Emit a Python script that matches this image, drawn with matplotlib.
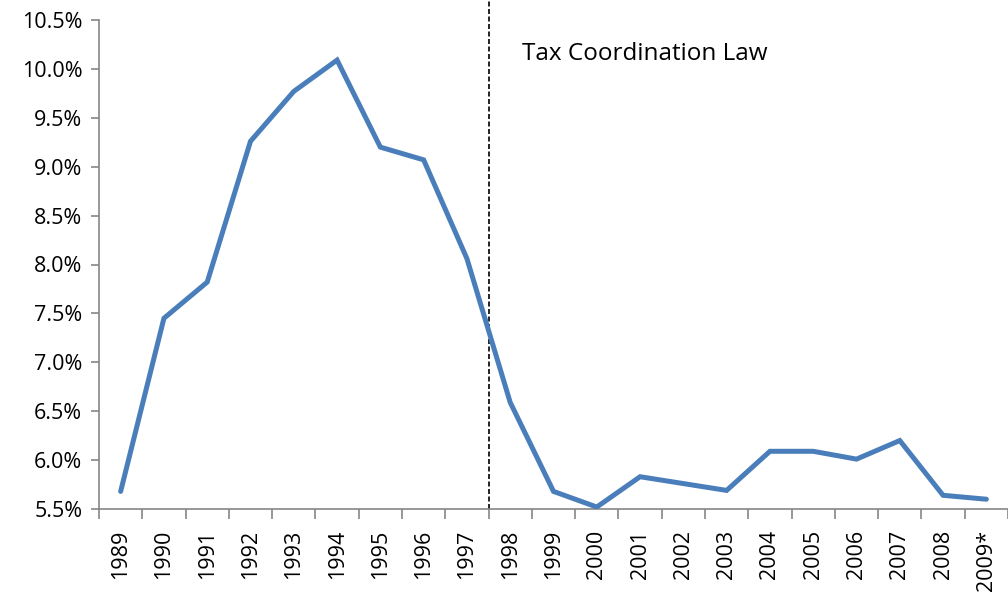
import matplotlib
matplotlib.use("Agg")
import matplotlib.pyplot as plt
import matplotlib.ticker as mticker
import numpy as np

# share of revenue by year (percent)
years = ["1989", "1990", "1991", "1992", "1993", "1994", "1995", "1996", "1997",
         "1998", "1999", "2000", "2001", "2002", "2003", "2004", "2005", "2006",
         "2007", "2008", "2009*"]
share = [5.68, 7.45, 7.82, 9.26, 9.77, 10.09, 9.20, 9.07, 8.06,
         6.59, 5.68, 5.52, 5.83, 5.76, 5.69, 6.09, 6.09, 6.01,
         6.20, 5.64, 5.60]
law_label = "Tax Coordination Law"
law_after = "1997"  # law line drawn between this year and the next

plt.rcParams["font.family"] = ["Open Sans", "DejaVu Sans"]

fig = plt.figure(figsize=(10.08, 5.95), dpi=100)
ax = fig.add_axes([99 / 1008, 1 - 509 / 595, 1 - 99 / 1008, (509 - 20) / 595])

x = np.arange(len(years))
ax.plot(x, share, color="#4A7EBB", linewidth=3.6, solid_capstyle="round",
        solid_joinstyle="miter", zorder=3)

# vertical marker for the law
xl = years.index(law_after) + 0.5
ax.plot([xl, xl], [5.5, 10.71], color="black", linewidth=1.2,
        linestyle=(0, (3.0, 1.5)), clip_on=False, zorder=2)
ax.text(9.27, 10.15, law_label, fontsize=17.5, ha="left", va="center",
        color="black")

ax.set_xlim(-0.5, 20.35)
ax.set_ylim(5.5, 10.5)

# y axis
ax.yaxis.set_major_locator(mticker.MultipleLocator(0.5))
ax.yaxis.set_major_formatter(mticker.FuncFormatter(lambda v, p: f"{v:.1f}%"))
ax.tick_params(axis="y", direction="out", length=6, width=1.2,
               color="#868686", labelsize=15.5, pad=6)

# x axis: labels at centres, tick marks at category boundaries
ax.set_xticks(x)
ax.set_xticklabels(years, rotation=90, fontsize=15.5)
ax.set_xticks(np.arange(len(years) + 1) - 0.5, minor=True)
ax.tick_params(axis="x", which="major", length=0, pad=15)
ax.tick_params(axis="x", which="minor", direction="out", length=7, width=1.2,
               color="#868686")

for s in ["top", "right"]:
    ax.spines[s].set_visible(False)
for s in ["left", "bottom"]:
    ax.spines[s].set_color("#868686")
    ax.spines[s].set_linewidth(1.2)

plt.savefig("out.png", dpi=100)
plt.close()
